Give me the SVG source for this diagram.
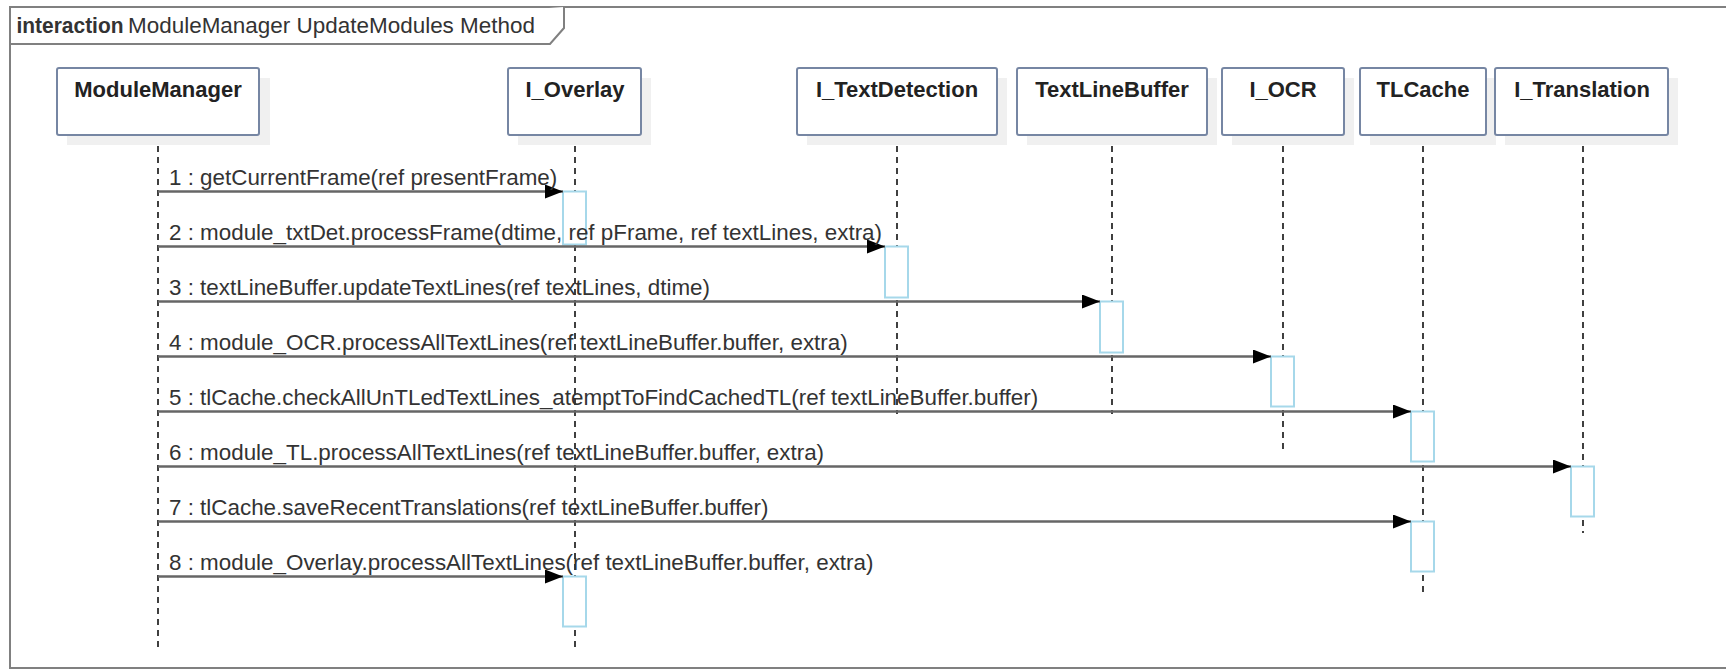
<svg xmlns="http://www.w3.org/2000/svg" width="1726" height="670" viewBox="0 0 1726 670">
<style>
.frame{fill:#fff;stroke:#808080;stroke-width:2}
.tab{fill:#fff;stroke:#808080;stroke-width:2}
.title{font-family:"Liberation Sans",Arial,sans-serif;font-size:22px;fill:#333}
.shadow{fill:#f0f0f0}
.box{fill:#fff;stroke:#7686a3;stroke-width:2}
.lbl{font-family:"Liberation Sans",Arial,sans-serif;font-size:22px;font-weight:bold;fill:#222;text-anchor:middle}
.life{stroke:#111;stroke-width:1.6;stroke-dasharray:6 5;fill:none}
.act{fill:#fff;stroke:#a6d8ea;stroke-width:2}
.msg{stroke:#666;stroke-width:2.6;fill:none}
.mtxt{font-family:"Liberation Sans",Arial,sans-serif;font-size:22.4px;fill:#333}
</style>
<defs>
<marker id="ah" markerUnits="userSpaceOnUse" markerWidth="19" markerHeight="15" refX="18" refY="7" orient="auto">
<path d="M0,0 L18,7 L0,14 Z" fill="#000"/>
</marker>
</defs>
<rect x="0" y="0" width="1726" height="670" fill="#fff"/>
<g id="frame">
<rect class="frame" x="10" y="7" width="1720" height="661"/>
<path class="tab" d="M10,44 H550 L564,28 V7"/>
<text class="title" x="16.5" y="33" font-weight="bold" fill="#111" textLength="107" lengthAdjust="spacingAndGlyphs">interaction</text>
<text class="title" x="128" y="33" textLength="407" lengthAdjust="spacingAndGlyphs">ModuleManager UpdateModules Method</text>
</g>
<g id="lifelines">
<line class="life" x1="158" y1="135" x2="158" y2="647"/>
<line class="life" x1="575" y1="135" x2="575" y2="647"/>
<line class="life" x1="897" y1="135" x2="897" y2="414"/>
<line class="life" x1="1112" y1="135" x2="1112" y2="414"/>
<line class="life" x1="1283" y1="135" x2="1283" y2="450"/>
<line class="life" x1="1423" y1="135" x2="1423" y2="593"/>
<line class="life" x1="1583" y1="135" x2="1583" y2="533"/>
</g>
<g id="ModuleManager">
<rect class="shadow" x="67" y="78" width="203" height="67"/>
<rect class="box" x="57" y="68" width="202" height="67" rx="2"/>
<text class="lbl" x="158" y="97">ModuleManager</text>
</g>
<g id="I_Overlay">
<rect class="shadow" x="518" y="78" width="133" height="67"/>
<rect class="box" x="508" y="68" width="133" height="67" rx="2"/>
<text class="lbl" x="575" y="97">I_Overlay</text>
<rect class="act" x="563" y="191.5" width="23" height="53"/>
<rect class="act" x="563" y="576.5" width="23" height="50"/>
</g>
<g id="I_TextDetection">
<rect class="shadow" x="807" y="78" width="200" height="67"/>
<rect class="box" x="797" y="68" width="200" height="67" rx="2"/>
<text class="lbl" x="897" y="97">I_TextDetection</text>
<rect class="act" x="885" y="246.5" width="23" height="51"/>
</g>
<g id="TextLineBuffer">
<rect class="shadow" x="1027" y="78" width="190" height="67"/>
<rect class="box" x="1017" y="68" width="190" height="67" rx="2"/>
<text class="lbl" x="1112" y="97">TextLineBuffer</text>
<rect class="act" x="1100" y="301.5" width="23" height="51"/>
</g>
<g id="I_OCR">
<rect class="shadow" x="1232" y="78" width="122" height="67"/>
<rect class="box" x="1222" y="68" width="122" height="67" rx="2"/>
<text class="lbl" x="1283" y="97">I_OCR</text>
<rect class="act" x="1271" y="356.5" width="23" height="50"/>
</g>
<g id="TLCache">
<rect class="shadow" x="1370" y="78" width="126" height="67"/>
<rect class="box" x="1360" y="68" width="126" height="67" rx="2"/>
<text class="lbl" x="1423" y="97">TLCache</text>
<rect class="act" x="1411" y="411.5" width="23" height="50"/>
<rect class="act" x="1411" y="521.5" width="23" height="50"/>
</g>
<g id="I_Translation">
<rect class="shadow" x="1505" y="78" width="173" height="67"/>
<rect class="box" x="1495" y="68" width="173" height="67" rx="2"/>
<text class="lbl" x="1582" y="97">I_Translation</text>
<rect class="act" x="1571" y="466.5" width="23" height="50"/>
</g>
<g id="connectors">
<line class="msg" x1="158" y1="191.5" x2="563" y2="191.5" marker-end="url(#ah)"/>
<text class="mtxt" x="169" y="185">1 : getCurrentFrame(ref presentFrame)</text>
<line class="msg" x1="158" y1="246.5" x2="885" y2="246.5" marker-end="url(#ah)"/>
<text class="mtxt" x="169" y="240">2 : module_txtDet.processFrame(dtime, ref pFrame, ref textLines, extra)</text>
<line class="msg" x1="158" y1="301.5" x2="1100" y2="301.5" marker-end="url(#ah)"/>
<text class="mtxt" x="169" y="295">3 : textLineBuffer.updateTextLines(ref textLines, dtime)</text>
<line class="msg" x1="158" y1="356.5" x2="1271" y2="356.5" marker-end="url(#ah)"/>
<text class="mtxt" x="169" y="350">4 : module_OCR.processAllTextLines(ref textLineBuffer.buffer, extra)</text>
<line class="msg" x1="158" y1="411.5" x2="1411" y2="411.5" marker-end="url(#ah)"/>
<text class="mtxt" x="169" y="405">5 : tlCache.checkAllUnTLedTextLines_atemptToFindCachedTL(ref textLineBuffer.buffer)</text>
<line class="msg" x1="158" y1="466.5" x2="1571" y2="466.5" marker-end="url(#ah)"/>
<text class="mtxt" x="169" y="460">6 : module_TL.processAllTextLines(ref textLineBuffer.buffer, extra)</text>
<line class="msg" x1="158" y1="521.5" x2="1411" y2="521.5" marker-end="url(#ah)"/>
<text class="mtxt" x="169" y="515">7 : tlCache.saveRecentTranslations(ref textLineBuffer.buffer)</text>
<line class="msg" x1="158" y1="576.5" x2="563" y2="576.5" marker-end="url(#ah)"/>
<text class="mtxt" x="169" y="570">8 : module_Overlay.processAllTextLines(ref textLineBuffer.buffer, extra)</text>
</g>
</svg>
